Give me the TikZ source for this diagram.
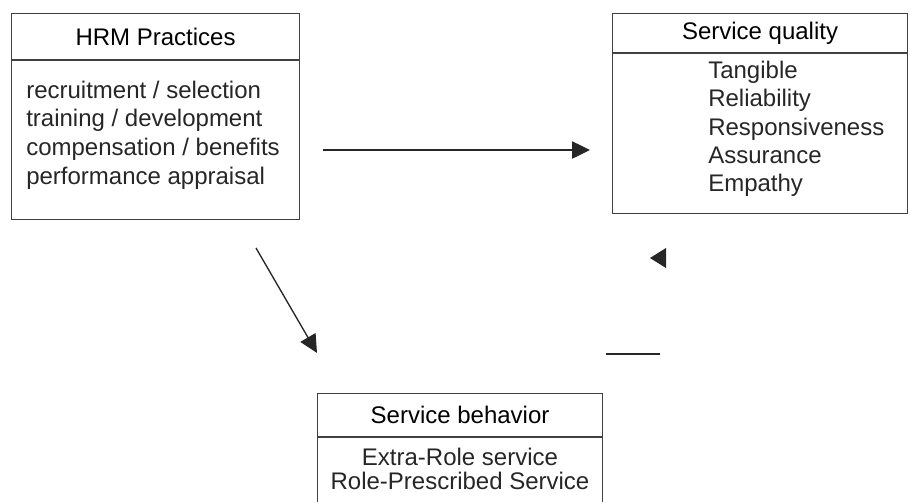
\documentclass[tikz,border=0pt]{standalone}
\usepackage{fontspec}
\setmainfont{Liberation Sans}
\usetikzlibrary{arrows.meta,positioning}
\tikzset{
	boxpart/.style = {draw=black!75, line width=0.8pt, inner sep=0pt, anchor=north west},
	boxtitle/.style = {boxpart, align=center},
	listtext/.style = {inner sep=0pt, align=left, text=black!85},
	conn/.style = {draw=black!85, line width=1pt, -{Triangle[length=13.5pt, width=13pt]}},
}

\begin{document}
\begin{tikzpicture}[x=0.75pt, y=-0.75pt, font=\fontsize{18}{21.5}\selectfont]
	\useasboundingbox (0,0) rectangle (910,501);
	% HRM practices box
	\node[boxtitle, minimum width=216pt, minimum height=34.5pt] (hrmtitle) at (11,13) {HRM Practices};
	\node[boxpart, minimum width=216pt, minimum height=119.25pt, below=0pt of hrmtitle.south west, anchor=north west] (hrmbody) {};
	\node[listtext, anchor=west] (hrmlist) at (26,135) {recruitment / selection\\training / development\\compensation / benefits\\performance appraisal};
	% Service quality box
	\node[boxtitle, minimum width=221.25pt, minimum height=29.25pt] (sqtitle) at (612,13) {Service quality};
	\node[boxpart, minimum width=221.25pt, minimum height=120pt, below=0pt of sqtitle.south west, anchor=north west] (sqbody) {};
	\node[listtext, anchor=west, font=\fontsize{18}{21.2}\selectfont] (sqlist) at (708,129) {Tangible\\Reliability\\Responsiveness\\Assurance\\Empathy};
	% Service behavior box (runs off the bottom)
	\node[boxtitle, minimum width=213.75pt, minimum height=32.25pt] (sbtitle) at (317,393) {Service behavior};
	\node[boxpart, minimum width=213.75pt, minimum height=75pt, below=0pt of sbtitle.south west, anchor=north west] (sbbody) {};
	\node[listtext, align=center, font=\fontsize{18}{18}\selectfont] (sblist) at (460,469) {Extra-Role service\\Role-Prescribed Service};
	% connectors
	\coordinate (hrmout) at (323,150);
	\coordinate (sqin) at (590,150);
	\coordinate (hrmdown) at (256,248);
	\coordinate (sbin) at (317,353);
	\draw[conn] (hrmout) -- (sqin);
	\draw[conn] (hrmdown) -- (sbin);
	% broken feedback arrow
	\fill[black!85] (650,258) -- (666,248) -- (666,268) -- cycle;
	\draw[draw=black!85, line width=1pt] (606,354) -- (660,354);
\end{tikzpicture}
\end{document}
